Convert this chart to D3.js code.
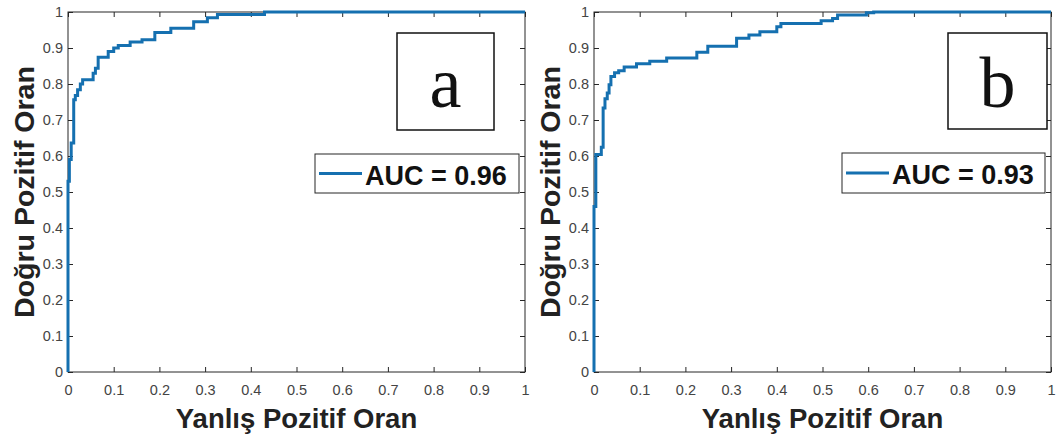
<!DOCTYPE html>
<html>
<head>
<meta charset="utf-8">
<script src="https://cdn.jsdelivr.net/npm/d3@7"></script>
<style>
  html, body { margin: 0; padding: 0; background: #fff; }
  svg { display: block; }
</style>
</head>
<body>
<svg id="chart" width="1062" height="437"></svg>
<script>
// ---------- data ----------
const xTicks = [0, 0.1, 0.2, 0.3, 0.4, 0.5, 0.6, 0.7, 0.8, 0.9, 1];
const yTicks = [0, 0.1, 0.2, 0.3, 0.4, 0.5, 0.6, 0.7, 0.8, 0.9, 1];
const tickLabels = ["0", "0.1", "0.2", "0.3", "0.4", "0.5", "0.6", "0.7", "0.8", "0.9", "1"];

const xLabel = "Yanlış Pozitif Oran";
const yLabel = "Doğru Pozitif Oran";

// Panel a: ROC points (false positive rate, true positive rate)
const fprA = [0, 0, 0.003, 0.007, 0.0125, 0.016, 0.021, 0.027, 0.032, 0.055, 0.06, 0.066, 0.088, 0.10, 0.11, 0.136, 0.162, 0.19, 0.225, 0.275, 0.305, 0.327, 0.43, 1];
const tprA = [0, 0.53, 0.59, 0.636, 0.756, 0.768, 0.784, 0.80, 0.812, 0.83, 0.844, 0.874, 0.89, 0.90, 0.907, 0.917, 0.923, 0.943, 0.955, 0.973, 0.984, 0.993, 1, 1];
const aucA = "AUC = 0.96";
const tagA = "a";

// Panel b
const fprB = [0, 0, 0.004, 0.016, 0.020, 0.024, 0.029, 0.033, 0.037, 0.045, 0.054, 0.066, 0.093, 0.122, 0.159, 0.225, 0.249, 0.312, 0.339, 0.363, 0.40, 0.409, 0.497, 0.522, 0.533, 0.596, 0.612, 1];
const tprB = [0, 0.46, 0.604, 0.624, 0.733, 0.759, 0.775, 0.798, 0.821, 0.831, 0.837, 0.847, 0.856, 0.863, 0.872, 0.888, 0.905, 0.927, 0.936, 0.945, 0.959, 0.968, 0.976, 0.982, 0.992, 0.998, 1, 1];
const aucB = "AUC = 0.93";
const tagB = "b";

// ---------- drawing ----------
const svg = d3.select("#chart");
const lineColor = "#1570b0";
const axisColor = "#262626";
const tickColor = "#444";
const sans = "'Liberation Sans', Arial, Helvetica, sans-serif";
const serif = "'Liberation Serif', 'Times New Roman', serif";

const panels = [
  { fpr: fprA, tpr: tprA, auc: aucA, tag: tagA, left: 68, right: 525,
    tagBox: [397, 33, 97, 97], legBox: [315, 154, 204, 39] },
  { fpr: fprB, tpr: tprB, auc: aucB, tag: tagB, left: 594, right: 1051,
    tagBox: [948, 33, 99, 96], legBox: [842, 153, 203, 40] }
];
const plotTop = 12, plotBottom = 372;

panels.forEach(p => {
  const x = d3.scaleLinear().domain([0, 1]).range([p.left, p.right]);
  const y = d3.scaleLinear().domain([0, 1]).range([plotBottom, plotTop]);
  const g = svg.append("g");
  const fmt = d => tickLabels[xTicks.indexOf(d)] ?? String(d);

  const ax = g.append("g").attr("transform", `translate(0,${plotBottom})`)
    .call(d3.axisBottom(x).tickValues(xTicks).tickFormat(fmt).tickSizeInner(-5).tickSizeOuter(0).tickPadding(13));
  const ay = g.append("g").attr("transform", `translate(${p.left},0)`)
    .call(d3.axisLeft(y).tickValues(yTicks).tickFormat(fmt).tickSizeInner(-5).tickSizeOuter(0).tickPadding(5));
  const at = g.append("g").attr("transform", `translate(0,${plotTop})`)
    .call(d3.axisTop(x).tickValues(xTicks).tickFormat("").tickSizeInner(-5).tickSizeOuter(0));
  const ar = g.append("g").attr("transform", `translate(${p.right},0)`)
    .call(d3.axisRight(y).tickValues(yTicks).tickFormat("").tickSizeInner(-5).tickSizeOuter(0));

  [ax, ay, at, ar].forEach(a => {
    a.select(".domain").remove();
    a.selectAll("line").attr("stroke", axisColor).attr("stroke-width", 1);
    a.selectAll("text").attr("fill", tickColor).style("font-family", sans).style("font-size", "14.5px");
  });

  g.append("rect")
    .attr("x", p.left).attr("y", plotTop)
    .attr("width", p.right - p.left).attr("height", plotBottom - plotTop)
    .attr("fill", "none").attr("stroke", axisColor).attr("stroke-width", 1);

  const pts = p.fpr.map((v, i) => [v, p.tpr[i]]);
  const line = d3.line().x(d => x(d[0])).y(d => y(d[1])).curve(d3.curveStepAfter);
  g.append("path").datum(pts)
    .attr("d", line)
    .attr("fill", "none").attr("stroke", lineColor).attr("stroke-width", 3)
    .attr("stroke-linejoin", "miter");

  g.append("text")
    .attr("x", (p.left + p.right) / 2).attr("y", 428)
    .attr("text-anchor", "middle")
    .style("font-family", sans).style("font-size", "27.5px").style("font-weight", "bold")
    .attr("fill", "#222").text(xLabel);
  g.append("text")
    .attr("transform", `translate(${p.left - 34},${(plotTop + plotBottom) / 2}) rotate(-90)`)
    .attr("text-anchor", "middle")
    .style("font-family", sans).style("font-size", "28.5px").style("font-weight", "bold")
    .attr("fill", "#222").text(yLabel);

  const [tx, ty, tw, th] = p.tagBox;
  g.append("rect").attr("x", tx).attr("y", ty).attr("width", tw).attr("height", th)
    .attr("fill", "#fff").attr("stroke", "#111").attr("stroke-width", 1.5);
  g.append("text")
    .attr("x", tx + tw / 2).attr("y", ty + 74)
    .attr("text-anchor", "middle")
    .style("font-family", serif).style("font-size", "72px")
    .attr("fill", "#111").text(p.tag);

  const [lx, ly, lw, lh] = p.legBox;
  g.append("rect").attr("x", lx).attr("y", ly).attr("width", lw).attr("height", lh)
    .attr("fill", "#fff").attr("stroke", axisColor).attr("stroke-width", 1);
  g.append("line")
    .attr("x1", lx + 4).attr("x2", lx + 47)
    .attr("y1", ly + lh / 2).attr("y2", ly + lh / 2)
    .attr("stroke", lineColor).attr("stroke-width", 3);
  g.append("text")
    .attr("x", lx + 50).attr("y", ly + 31)
    .style("font-family", sans).style("font-size", "27px").style("font-weight", "bold")
    .attr("fill", "#111").text(p.auc);
});
</script>
</body>
</html>
